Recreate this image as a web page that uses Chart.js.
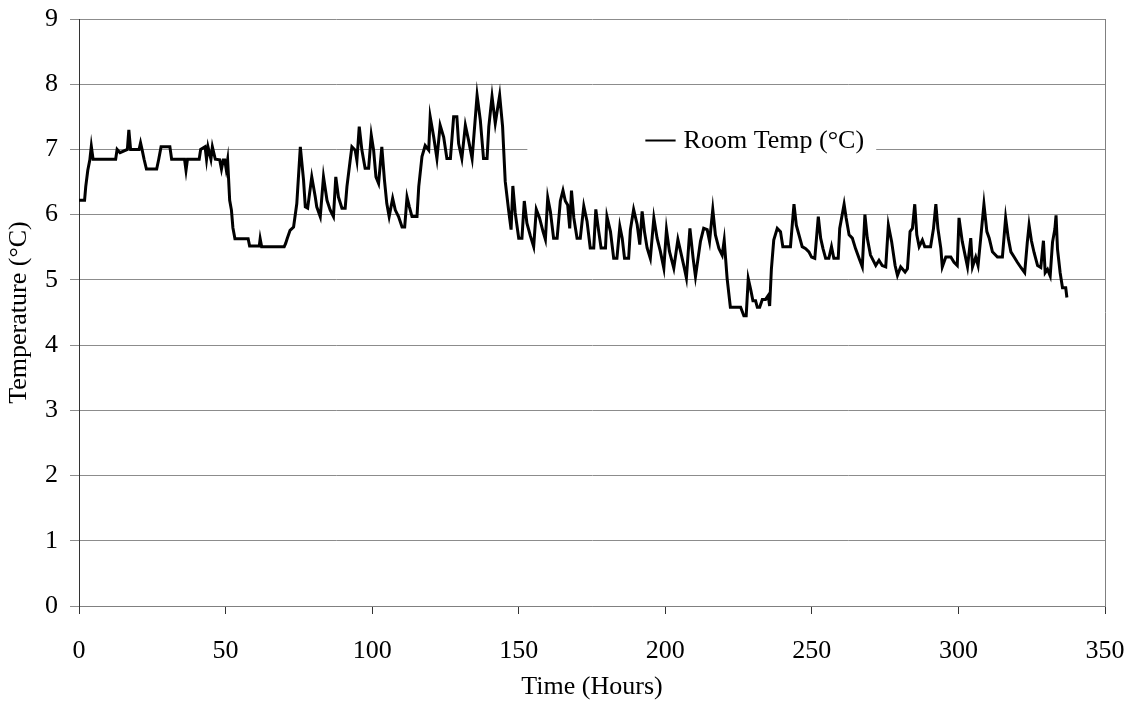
<!DOCTYPE html>
<html>
<head>
<meta charset="utf-8">
<script src="https://cdn.jsdelivr.net/npm/chart.js@4/dist/chart.umd.min.js"></script>
<style>
  html, body { margin: 0; padding: 0; background: #fff; }
  #wrap { width: 1135px; height: 703px; }
</style>
</head>
<body>
<div id="wrap"><canvas id="temp-chart" width="1135" height="703"></canvas></div>
<script>
// logged room temperature, hours since start
const hours = [
  0, 1.9, 2.3, 3, 3.7, 4.2, 4.8, 12.5, 13, 14, 16.5, 17, 17.6, 20.5, 21, 21.5, 22.2, 23, 26.5, 27.2,
  28, 31, 31.6, 36, 36.5, 37, 41, 41.5, 43, 43.5, 44, 45, 45.5, 46.5, 48, 48.6, 49.2, 49.7, 50.2, 50.7,
  51.4, 52, 52.5, 53.2, 57.7, 58.2, 61.5, 61.8, 62.3, 70, 70.5, 71, 72, 73.2, 74.3, 75.5,
  76.6, 77.2, 78, 79.4, 80.6, 81.1, 82.3, 83.4, 84.6, 85.7, 86.8, 87.6, 88.5, 89.7, 90.8, 91.4, 92.5, 93.1,
  94.2, 94.8, 95.6, 96.5, 97.6, 98.8, 99.7, 100.5, 101.3, 102.2, 103.3, 104.2, 105, 105.8, 107, 107.9,
  109, 110.2, 111.1, 111.9, 112.7, 113.6, 115.3, 115.9, 117, 118.1, 119.3, 119.8, 121, 122.1, 123.2, 124.4,
  125.5, 126.7, 127.8, 128.9, 129.5, 130.6, 131.8, 132.9, 134.1, 135.8, 136.9, 138, 139.2, 139.8, 140.9, 142,
  143.5, 144.5, 144.9, 145.4,
  146.6, 147.4, 148, 148.8, 150, 151.1, 151.9, 152.8, 154, 155.1, 156, 157.1, 158.3, 159.1, 159.9, 160.8,
  161.9, 163.1, 164.2, 165.1, 165.9, 166.7, 167.4, 168, 168.8, 169.9, 171, 172.2, 173.3, 174.4, 175.6, 176.3,
  177.3, 178.1, 179.6, 180.1, 181.3, 182.4, 183.5, 184.5, 185.3, 186.1, 187.5, 188.1, 189.2, 190.4, 191.3, 192.1,
  192.9, 193.8, 194.9, 196.1, 197.2, 198.3, 199.5, 200.4, 201.4, 202.9, 204.3, 205.2, 206.5, 207.2, 208.4, 209.5,
  210.3,
  212, 213.1, 214.3, 215.1, 216.2, 217.1, 218.3, 219.4, 220.1, 221.1, 222.2, 225.7, 226.8, 227.6, 228.3, 229.1,
  229.9, 230.8, 231.4, 232.2, 233.1, 234.2, 235.1, 235.6, 236.2, 237, 238.2, 239.3, 240.1, 242.7, 243.9, 244.7,
  245.6, 246.7, 247.9, 249, 249.9, 251, 252.2, 253, 253.8, 254.7, 255.8, 256.7, 257.5, 259, 259.5, 261,
  261.7, 262.7, 263.8, 264.9, 266.1, 267.2, 268.1, 268.9, 270, 271.8, 272.9, 274, 275.2, 276.1, 277.2, 278.4,
  279.2, 280.3,
  281.8, 282.6, 283.5, 284.3, 285.1, 285.8, 286.6, 287.7, 288.5, 290.5, 291.5, 292.3, 293, 294, 294.5, 295.7,
  297.4, 298.5, 299.6, 300.2, 301.3, 302.5, 303.1, 304.2, 304.8, 305.9, 306.7, 307.6, 308.7, 309.7, 310.5, 311.6,
  313.3, 315, 316.1, 317, 317.9, 319, 320.1, 321.3, 322.6, 323.5, 324.1, 324.9, 325.8, 327, 328.1, 329,
  329.6, 330.4, 331.3, 332.1, 332.9, 333.3, 333.8, 334.7, 335.5, 336.6, 337
];

const roomTemp = [
  6.22, 6.22, 6.43, 6.68, 6.84, 7.05, 6.85, 6.85, 7.0, 6.95, 7.0, 7.3, 7.0, 7.0, 7.1, 7.0, 6.85, 6.7, 6.7, 6.85,
  7.04, 7.04, 6.85, 6.85, 6.68, 6.85, 6.85, 7.0, 7.04, 6.85, 7.04, 6.85, 7.04, 6.85, 6.84, 6.7, 6.84, 6.84, 6.7, 6.84,
  6.22, 6.07, 5.8, 5.63, 5.63, 5.52, 5.52, 5.63, 5.51, 5.51, 5.56, 5.63, 5.76, 5.81, 6.17, 7.04,
  6.53, 6.12, 6.1, 6.58, 6.27, 6.12, 5.97, 6.58, 6.22, 6.07, 5.97, 6.58, 6.27, 6.1, 6.1, 6.43, 6.83, 7.04,
  6.99, 6.83, 7.35, 6.99, 6.71, 6.71, 7.22, 6.99, 6.58, 6.48, 7.04, 6.53, 6.17, 5.97, 6.25, 6.07,
  5.97, 5.81, 5.81, 6.27, 6.12, 5.97, 5.97, 6.43, 6.89, 7.06, 6.99, 7.5, 7.19, 6.86, 7.37, 7.19,
  6.86, 6.86, 7.5, 7.5, 7.09, 6.86, 7.37, 7.14, 6.86, 7.83, 7.45, 6.86, 6.86, 7.35, 7.81, 7.4,
  7.83, 7.35, 6.97, 6.51,
  6.05, 5.77, 6.44, 6.03, 5.64, 5.64, 6.21, 5.87, 5.67, 5.51, 6.08, 5.95, 5.74, 5.62, 6.26, 6.05,
  5.64, 5.64, 6.21, 6.37, 6.21, 6.15, 5.79, 6.37, 5.95, 5.64, 5.64, 6.13, 5.9, 5.49, 5.49, 6.08,
  5.74, 5.49, 5.49, 5.97, 5.74, 5.33, 5.33, 5.82, 5.64, 5.33, 5.33, 5.77, 6.08, 5.85, 5.54, 6.05,
  5.74, 5.49, 5.33, 5.95, 5.64, 5.44, 5.18, 5.77, 5.44, 5.18, 5.62, 5.44, 5.18, 5.03, 5.79, 5.33,
  5.05,
  5.59, 5.79, 5.77, 5.59, 6.08, 5.69, 5.48, 5.38, 5.61, 5.02, 4.58, 4.58, 4.45, 4.45, 5.02, 4.86,
  4.68, 4.68, 4.58, 4.58, 4.7, 4.7, 4.76, 4.6, 5.17, 5.61, 5.79, 5.74, 5.51, 5.51, 6.16, 5.84,
  5.69, 5.51, 5.48, 5.43, 5.35, 5.33, 5.97, 5.64, 5.48, 5.33, 5.33, 5.51, 5.33, 5.33, 5.79, 6.16,
  5.95, 5.69, 5.64, 5.48, 5.33, 5.2, 6.0, 5.64, 5.38, 5.22, 5.3, 5.22, 5.2, 5.84, 5.59, 5.22,
  5.07, 5.2,
  5.12, 5.17, 5.74, 5.79, 6.16, 5.69, 5.51, 5.61, 5.51, 5.51, 5.79, 6.16, 5.79, 5.48, 5.2, 5.35,
  5.35, 5.27, 5.22, 5.95, 5.59, 5.33, 5.2, 5.64, 5.2, 5.35, 5.22, 5.64, 6.16, 5.74, 5.64, 5.43,
  5.35, 5.35, 5.95, 5.64, 5.43, 5.35, 5.27, 5.19, 5.11, 5.58, 5.84, 5.6, 5.42, 5.22, 5.19, 5.6,
  5.11, 5.16, 5.06, 5.58, 5.78, 5.99, 5.47, 5.11, 4.88, 4.88, 4.73
];

const seriesLabel = 'Room Temp (\u00B0C)';
const xTitle = 'Time (Hours)';
const yTitle = 'Temperature (\u00B0C)';

const SERIF = "'Liberation Serif', 'Times New Roman', serif";
const FONT_SIZE = 26;

// right-hand frame line plus the boxed legend inside the plot
const framePlugin = {
  id: 'frameAndLegend',
  beforeDatasetsDraw(chart) {
    const { ctx, chartArea: a } = chart;
    ctx.save();
    ctx.strokeStyle = '#808080';
    ctx.lineWidth = 1;
    ctx.beginPath();
    ctx.moveTo(a.right + 0.5, a.top);
    ctx.lineTo(a.right + 0.5, a.bottom);
    ctx.stroke();

    const w = a.right - a.left;
    const h = a.bottom - a.top;
    const boxL = a.left + w * 0.437;
    const boxR = a.left + w * 0.777;
    const midY = a.top + h * 0.207;
    ctx.fillStyle = '#fff';
    ctx.fillRect(boxL, midY - 18, boxR - boxL, 36);

    ctx.strokeStyle = '#000';
    ctx.lineWidth = 2;
    ctx.beginPath();
    ctx.moveTo(a.left + w * 0.552, midY);
    ctx.lineTo(a.left + w * 0.5815, midY);
    ctx.stroke();

    ctx.fillStyle = '#000';
    ctx.font = `${FONT_SIZE}px ${SERIF}`;
    ctx.textBaseline = 'middle';
    ctx.textAlign = 'left';
    ctx.fillText(seriesLabel, a.left + w * 0.5893, midY + 1);
    ctx.restore();
  }
};

const ctx = document.getElementById('temp-chart');
new Chart(ctx, {
  type: 'line',
  data: {
    datasets: [{
      label: seriesLabel,
      data: hours.map((h, i) => ({ x: h, y: roomTemp[i] })),
      borderColor: '#000',
      borderWidth: 3,
      pointRadius: 0,
      tension: 0,
      fill: false
    }]
  },
  options: {
    responsive: false,
    animation: false,
    layout: { padding: { top: 19, right: 30, left: 0, bottom: 0 } },
    plugins: {
      legend: { display: false },
      tooltip: { enabled: false }
    },
    scales: {
      x: {
        type: 'linear',
        min: 0,
        max: 350,
        afterFit: (scale) => {
          scale.height = 97;
          scale.paddingLeft = 0;
          scale.paddingRight = 0;
        },
        ticks: {
          stepSize: 50,
          color: '#000',
          padding: 22,
          maxRotation: 0,
          font: { family: SERIF, size: FONT_SIZE }
        },
        grid: {
          drawOnChartArea: false,
          drawTicks: true,
          tickLength: 8,
          color: '#333'
        },
        border: { color: '#808080' },
        title: {
          display: true,
          text: xTitle,
          color: '#000',
          padding: { top: -3, bottom: 0 },
          font: { family: SERIF, size: FONT_SIZE }
        }
      },
      y: {
        min: 0,
        max: 9,
        afterFit: (scale) => {
          scale.width = 79;
          scale.paddingTop = 0;
          scale.paddingBottom = 0;
        },
        ticks: {
          stepSize: 1,
          color: '#000',
          padding: 12,
          font: { family: SERIF, size: FONT_SIZE }
        },
        grid: {
          color: '#8c8c8c',
          tickLength: 9
        },
        border: { color: '#333' },
        title: {
          display: true,
          text: yTitle,
          color: '#000',
          padding: 4,
          font: { family: SERIF, size: FONT_SIZE }
        }
      }
    }
  },
  plugins: [framePlugin]
});
</script>
</body>
</html>
